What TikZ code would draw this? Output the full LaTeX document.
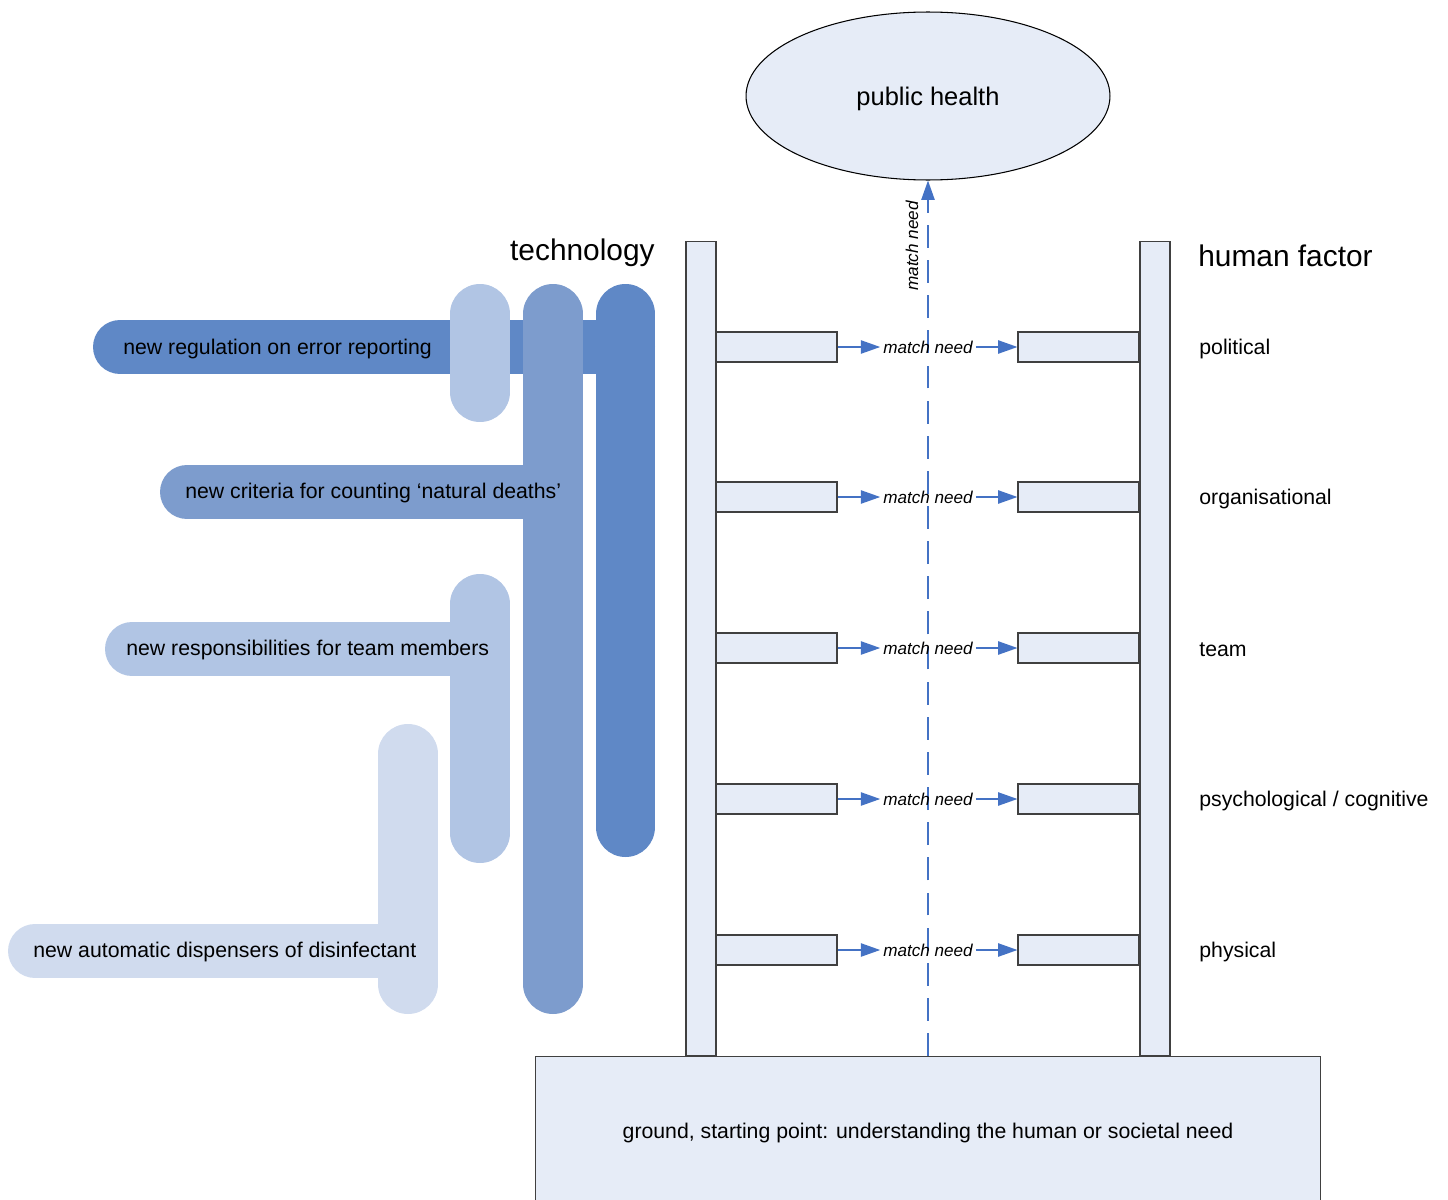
\documentclass[tikz,border=0pt]{standalone}
\usepackage{fontspec}
\setmainfont{Liberation Sans}
\usetikzlibrary{shapes.geometric,arrows.meta}

\definecolor{barDark}{HTML}{5F88C6}
\definecolor{barMid}{HTML}{7D9CCD}
\definecolor{barLight}{HTML}{B1C5E4}
\definecolor{barPale}{HTML}{D0DBEE}
\definecolor{paleFill}{HTML}{E6ECF7}
\definecolor{linkBlue}{HTML}{4472C4}
\definecolor{edgeGray}{HTML}{404040}

\tikzset{
  vbar/.style={line width=1.2cm, line cap=round},
  hbar/.style={line width=1.08cm, line cap=round},
  rail/.style={draw=edgeGray, fill=paleFill, line width=0.6pt,
    minimum width=0.6cm, minimum height=16.3cm, inner sep=0pt},
  rung/.style={draw=edgeGray, fill=paleFill, line width=0.6pt,
    minimum width=2.42cm, minimum height=0.6cm, inner sep=0pt},
  need/.style={font=\fontsize{9.75}{11}\selectfont\itshape, inner sep=1.5pt},
  link/.style={draw=linkBlue, line width=1pt,
    -{Triangle[length=11pt,width=7.5pt]}},
  body/.style={font=\fontsize{12.1}{14}\selectfont, inner sep=0pt},
  head/.style={font=\fontsize{17}{20}\selectfont, inner sep=0pt},
}

\begin{document}
\begin{tikzpicture}[x=0.02cm, y=-0.02cm]
\clip (0,0) rectangle (1448,1200);

% ---- technology bars ----
\draw[hbar, barDark] (120,347) -- (628,347);
\draw[vbar, barLight] (480,314) -- (480,392);
\draw[vbar, barMid] (553,314) -- (553,984);
\draw[vbar, barDark] (625.5,314) -- (625.5,827);
\draw[hbar, barMid] (187,492) -- (556,492);
\draw[vbar, barLight] (480,604) -- (480,833);
\draw[hbar, barLight] (132,649) -- (483,649);
\draw[vbar, barPale] (408,754) -- (408,984);
\draw[hbar, barPale] (35,951) -- (411,951);

\node[body, anchor=west] (t1) at (123,349) {new regulation on error reporting};
\node[body, anchor=west] (t2) at (185,493) {new criteria for counting ‘natural deaths’};
\node[body, anchor=west] (t3) at (126,650) {new responsibilities for team members};
\node[body, anchor=west] (t4) at (33,952) {new automatic dispensers of disinfectant};

\node[head, anchor=east] (tech) at (655,253) {technology};
\node[head, anchor=west] (hf) at (1198,256) {human factor};

% ---- goal ----
\node[ellipse, draw=black, fill=paleFill, line width=0.6pt,
      minimum width=7.28cm, minimum height=3.36cm, inner sep=0pt,
      text depth=0pt,
      font=\fontsize{14.5}{17}\selectfont] (ph) at (928,96) {public health};

% ---- ground ----
\node[draw=edgeGray, fill=paleFill, line width=0.6pt, anchor=north,
      minimum width=15.72cm, minimum height=3.4cm, inner sep=0pt] (ground) at (928,1056) {};
\node[body] (gtext) at (928,1133) {ground, starting point: understanding the human or societal need};

% ---- ladder rails ----
\node[rail] (railL) at (701,648.5) {};
\node[rail] (railR) at (1155,648.5) {};

% ---- dashed link to the goal ----
\draw[link, dash pattern=on 13pt off 7pt] (ground.north) -- (ph.south);
\node[need, rotate=90] (vneed) at (912,246) {match need};

% ---- rungs ----
\foreach \i/\y/\lab in {1/347/political, 2/497/organisational, 3/648/team,
                        4/799/{psychological / cognitive}, 5/950/physical}{
  \node[rung] (L\i) at (776.5,\y) {};
  \node[rung] (R\i) at (1078.5,\y) {};
  \node[need] (M\i) at (928,\y) {match need};
  \draw[link] (L\i.east) -- (M\i.west);
  \draw[link] (M\i.east) -- (R\i.west);
  \node[body, anchor=west] (H\i) at (1199,\y+2) {\lab};
}
\end{tikzpicture}
\end{document}
